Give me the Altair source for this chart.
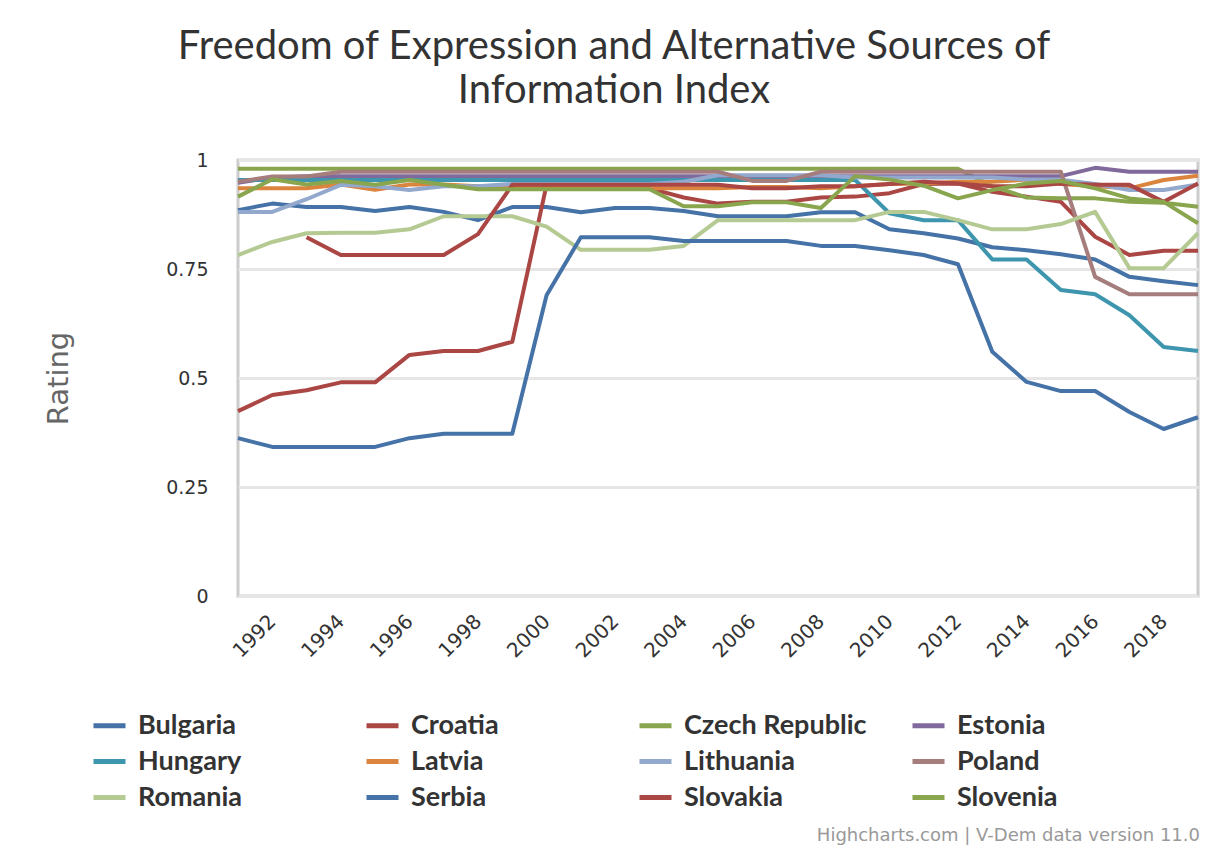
import altair as alt
import pandas as pd

years = list(range(1991, 2020))

countries = ["Bulgaria", "Croatia", "Czech Republic", "Estonia", "Hungary", "Latvia",
             "Lithuania", "Poland", "Romania", "Serbia", "Slovakia", "Slovenia"]
colors = ["#4572A7", "#AA4643", "#89A54E", "#80699B", "#3D96AE", "#DB843D",
          "#92A8CD", "#A47D7C", "#B5CA92", "#4572A7", "#AA4643", "#89A54E"]

bulgaria = [0.885, 0.90, 0.892, 0.892, 0.883, 0.892, 0.881, 0.862, 0.892,
            0.892, 0.88, 0.89, 0.89, 0.883, 0.871, 0.871, 0.871, 0.88, 0.88,
            0.841, 0.832, 0.82, 0.80, 0.793, 0.784, 0.772, 0.732, 0.722, 0.713]
croatia = [0.424, 0.461, 0.472, 0.49, 0.49, 0.553, 0.562, 0.562, 0.583,
           0.943, 0.943, 0.943, 0.935, 0.914, 0.90, 0.904, 0.904, 0.914, 0.916,
           0.924, 0.945, 0.946, 0.927, 0.916, 0.904, 0.824, 0.782, 0.792, 0.792]
czech = [0.98, 0.98, 0.98, 0.98, 0.98, 0.98, 0.98, 0.98, 0.98,
         0.98, 0.98, 0.98, 0.98, 0.98, 0.98, 0.98, 0.98, 0.98, 0.98,
         0.98, 0.98, 0.98, 0.94, 0.914, 0.912, 0.912, 0.904, 0.902, 0.893]
estonia = [0.948, 0.96, 0.963, 0.963, 0.963, 0.963, 0.963, 0.963, 0.963,
           0.963, 0.963, 0.963, 0.963, 0.963, 0.963, 0.963, 0.963, 0.963, 0.963,
           0.963, 0.963, 0.963, 0.963, 0.963, 0.963, 0.982, 0.973, 0.973, 0.973]
hungary = [0.954, 0.954, 0.954, 0.954, 0.954, 0.954, 0.954, 0.954, 0.954,
           0.954, 0.954, 0.954, 0.954, 0.954, 0.954, 0.954, 0.954, 0.954, 0.954,
           0.878, 0.862, 0.862, 0.772, 0.772, 0.702, 0.692, 0.644, 0.571, 0.562]
latvia = [0.935, 0.935, 0.935, 0.944, 0.932, 0.944, 0.944, 0.94, 0.94,
          0.94, 0.94, 0.94, 0.935, 0.935, 0.935, 0.938, 0.938, 0.935, 0.94,
          0.945, 0.946, 0.95, 0.95, 0.955, 0.945, 0.94, 0.935, 0.954, 0.964]
lithuania = [0.881, 0.881, 0.91, 0.943, 0.94, 0.931, 0.94, 0.94, 0.945,
             0.945, 0.945, 0.945, 0.945, 0.95, 0.965, 0.965, 0.965, 0.965, 0.96,
             0.96, 0.96, 0.96, 0.96, 0.955, 0.955, 0.945, 0.931, 0.931, 0.944]
poland = [0.95, 0.962, 0.962, 0.973, 0.973, 0.973, 0.973, 0.973, 0.973,
          0.973, 0.973, 0.973, 0.973, 0.973, 0.973, 0.952, 0.952, 0.973, 0.973,
          0.973, 0.973, 0.973, 0.973, 0.973, 0.973, 0.732, 0.692, 0.692, 0.692]
romania = [0.782, 0.812, 0.832, 0.833, 0.833, 0.841, 0.871, 0.871, 0.871,
           0.847, 0.794, 0.794, 0.794, 0.803, 0.862, 0.862, 0.862, 0.862, 0.862,
           0.881, 0.881, 0.862, 0.841, 0.841, 0.853, 0.881, 0.752, 0.752, 0.832]
serbia = [0.362, 0.342, 0.342, 0.342, 0.342, 0.362, 0.372, 0.372, 0.372,
          0.69, 0.823, 0.823, 0.823, 0.814, 0.814, 0.814, 0.814, 0.803, 0.803,
          0.793, 0.782, 0.761, 0.56, 0.491, 0.47, 0.47, 0.422, 0.383, 0.41]
slovakia = [None, None, 0.823, 0.782, 0.782, 0.782, 0.782, 0.83, 0.943,
            0.943, 0.943, 0.943, 0.943, 0.943, 0.943, 0.935, 0.935, 0.94, 0.94,
            0.945, 0.95, 0.946, 0.94, 0.94, 0.946, 0.943, 0.943, 0.904, 0.946]
slovenia = [0.916, 0.956, 0.944, 0.952, 0.943, 0.954, 0.943, 0.933, 0.933,
            0.933, 0.933, 0.933, 0.933, 0.894, 0.894, 0.903, 0.903, 0.89, 0.963,
            0.955, 0.941, 0.912, 0.931, 0.946, 0.952, 0.935, 0.912, 0.904, 0.855]

series = [bulgaria, croatia, czech, estonia, hungary, latvia,
          lithuania, poland, romania, serbia, slovakia, slovenia]

x_ticks = list(range(1992, 2019, 2))
y_ticks = [0, 0.25, 0.5, 0.75, 1]

title_lines = ["Freedom of Expression and Alternative Sources of", "Information Index"]
credit_text = "Highcharts.com | V-Dem data version 11.0"

# legend lays entries out column by column: reorder so it reads row by row (4 columns x 3 rows)
n_cols, n_rows = 4, 3
legend_order = [countries[r * n_cols + c] for c in range(n_cols) for r in range(n_rows)]
color_of = dict(zip(countries, colors))
legend_colors = [color_of[c] for c in legend_order]

rows = []
for idx, (c, vals) in enumerate(zip(countries, series)):
    for yr, v in zip(years, vals):
        if v is not None:
            rows.append({"country": c, "year": yr, "value": v, "order": idx})
df = pd.DataFrame(rows)

lines = alt.Chart(df).mark_line(strokeWidth=4, strokeJoin="round").encode(
    x=alt.X("year:Q",
            scale=alt.Scale(domain=[1991, 2019], nice=False, zero=False),
            axis=alt.Axis(values=x_ticks, format="d", labelAngle=-45, labelAlign="right",
                          labelBaseline="middle", labelPadding=22, ticks=False, domain=False,
                          grid=False, labelFont="DejaVu Sans", labelFontSize=20,
                          labelColor="#333333", title=None)),
    y=alt.Y("value:Q",
            scale=alt.Scale(domain=[0, 1], nice=False),
            axis=alt.Axis(values=y_ticks, labelExpr="datum.value == 0 ? '0' : datum.value == 1 ? '1' : format(datum.value, '.2~f')",
                          ticks=False, domain=False, grid=True, gridColor="#e6e6e6",
                          gridWidth=3, labelFont="DejaVu Sans", labelFontSize=19,
                          labelColor="#333333", labelPadding=30,
                          title="Rating", titleFont="DejaVu Sans", titleFontSize=29,
                          titleFontWeight="normal", titleColor="#666666",
                          titleAngle=-90, titleX=-180, titleY=218,
                          titleAlign="center", titleBaseline="middle")),
    color=alt.Color("country:N",
                    scale=alt.Scale(domain=legend_order, range=legend_colors),
                    legend=alt.Legend(orient="none", legendX=-147, legendY=547,
                                      columns=n_cols, title=None, symbolType="stroke",
                                      symbolStrokeWidth=5, symbolSize=1024,
                                      labelFont="Lato", labelFontSize=27,
                                      labelFontWeight="bold", labelColor="#333333",
                                      labelOffset=10, rowPadding=4, columnPadding=35,
                                      gridAlign="all", labelLimit=400)),
    detail="country:N",
    order="order:Q",
)

credit_df = pd.DataFrame({"t": [credit_text]})
credit = alt.Chart(credit_df).mark_text(
    align="right", baseline="alphabetic", font="DejaVu Sans", fontSize=18, color="#999999"
).encode(x=alt.value(962), y=alt.value(681), text="t:N")

chart = alt.layer(lines, credit).properties(
    width=960,
    height=436,
    padding={"left": 230, "top": 152, "right": 9, "bottom": 249},
    autosize=alt.AutoSizeParams(type="none"),
    title=alt.TitleParams(text=title_lines, font="Lato", fontSize=40, fontWeight="normal",
                          color="#333333", anchor="middle", frame="bounds",
                          offset=40, lineHeight=44, dx=-8),
).configure_view(stroke="#cccccc", strokeWidth=3)

chart.save("out.html", embed_options={"renderer": "svg", "actions": False})
